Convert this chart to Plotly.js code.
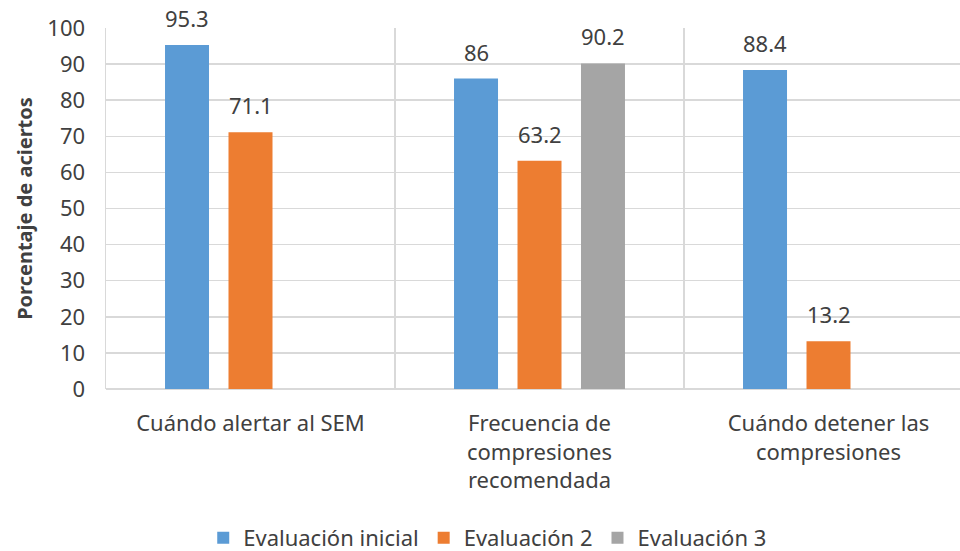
<!DOCTYPE html>
<html>
<head>
<meta charset="utf-8">
<script src="https://cdn.plot.ly/plotly-3.0.1.min.js"></script>
<style>html,body{margin:0;padding:0;background:#fff;overflow:hidden;}</style>
</head>
<body>
<div id="chart" style="width:960px;height:551px;"></div>
<script>
const categories = ["Cuándo alertar al SEM", "Frecuencia de<br>compresiones<br>recomendada", "Cuándo detener las<br>compresiones"];
const seriesNames = ["Evaluación inicial", "Evaluación 2", "Evaluación 3"];
const evalInicial = [95.3, 86, 88.4];
const eval2 = [71.1, 63.2, 13.2];
const eval3 = [null, 90.2, null];
const colors = ["#5b9bd5", "#ed7d31", "#a5a5a5"];
const yTicks = [0, 10, 20, 30, 40, 50, 60, 70, 80, 90, 100];

const values = [evalInicial, eval2, eval3];
const txtFont = {family: "Noto Sans, sans-serif", size: 22, color: "#404040"};

const W = 960, H = 551;
const margin = {l: 106, r: 0, t: 28, b: 162};
const xRange = [-0.5, 2.455];
const bargap = 0.341;
const nSeries = values.length;

const traces = values.map((v, i) => ({
  type: "bar",
  name: seriesNames[i],
  x: categories,
  y: v,
  marker: {color: colors[i]},
  hoverinfo: "x+y+name"
}));

// data labels placed above each bar, offset to the bar's slot within its group
const catPx = (W - margin.l - margin.r) / (xRange[1] - xRange[0]);
const slotPx = catPx * (1 - bargap) / nSeries;
const annotations = [];
values.forEach((v, i) => {
  v.forEach((d, j) => {
    if (d === null) return;
    annotations.push({
      x: categories[j], y: d, xref: "x", yref: "y",
      text: String(d), showarrow: false,
      xanchor: "center", yanchor: "bottom",
      xshift: (i - (nSeries - 1) / 2) * slotPx, yshift: 10,
      font: txtFont
    });
  });
});

const layout = {
  width: W, height: H,
  margin: margin,
  paper_bgcolor: "#ffffff", plot_bgcolor: "#ffffff",
  barmode: "group",
  bargap: bargap,
  bargroupgap: 0.307,
  font: txtFont,
  showlegend: true,
  annotations: annotations,
  legend: {
    orientation: "h", x: 0.447, xanchor: "center",
    yref: "container", y: 0.062, yanchor: "top",
    font: {family: "Noto Sans, sans-serif", size: 22, color: "#404040"},
    traceorder: "normal"
  },
  xaxis: {
    type: "category",
    range: xRange,
    tickson: "boundaries",
    showgrid: true, gridcolor: "#d9d9d9", gridwidth: 1.5,
    ticks: "", ticklabelstandoff: 19,
    tickfont: txtFont,
    showline: false, zeroline: false, fixedrange: true, automargin: false
  },
  yaxis: {
    range: [0, 100],
    tickvals: yTicks,
    ticktext: yTicks.map(String),
    showgrid: true, gridcolor: "#d9d9d9", gridwidth: 1.5,
    zeroline: true, zerolinecolor: "#d9d9d9", zerolinewidth: 1.5,
    showline: true, linecolor: "#d9d9d9", linewidth: 1.5,
    ticks: "", ticklabelstandoff: 15,
    tickfont: txtFont,
    title: {text: "Porcentaje de aciertos", font: {family: "Noto Sans, sans-serif", size: 20, color: "#404040", weight: "bold"}, standoff: 9},
    automargin: false, fixedrange: true
  }
};

Plotly.newPlot("chart", traces, layout, {displayModeBar: false, staticPlot: true});
</script>
</body>
</html>
